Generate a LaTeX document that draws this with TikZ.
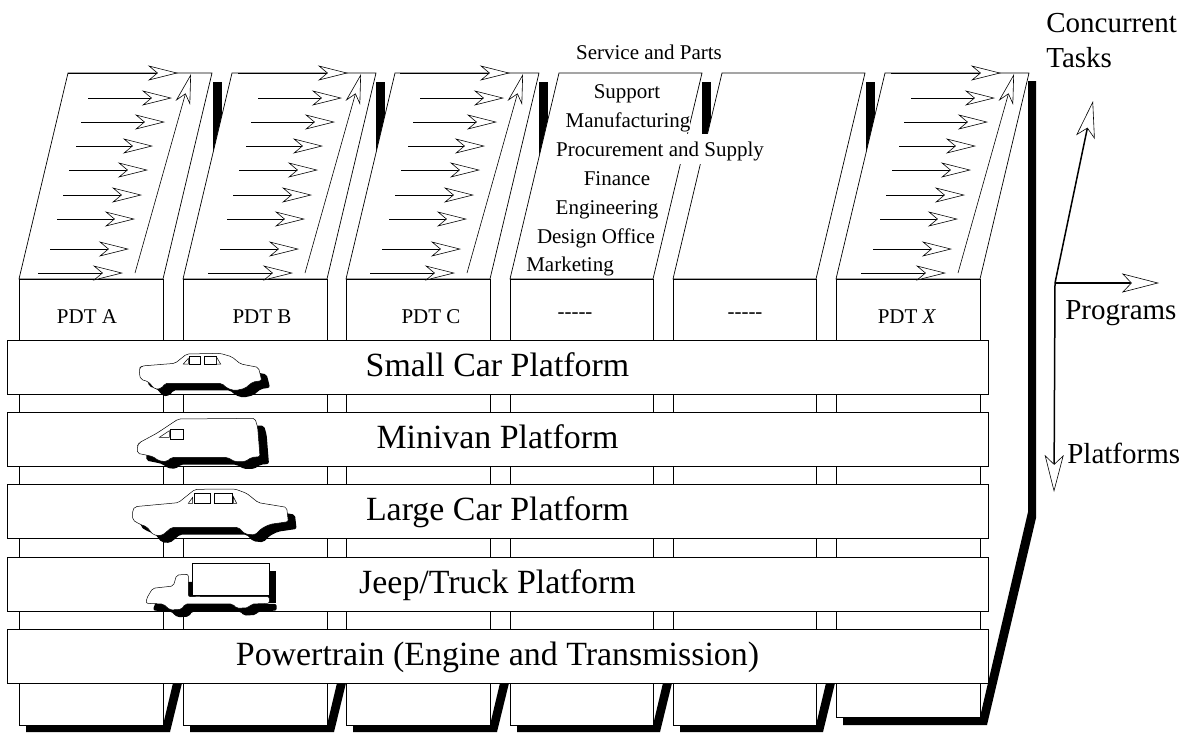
\documentclass[tikz,border=0pt]{standalone}
\usepackage{fontspec}
\setmainfont{Liberation Serif}
\usetikzlibrary{arrows.meta}
\newcommand{\fs}[1]{\fontsize{#1}{#1}\selectfont}
\def\smallcar{(58,85) -- (65,78) -- (165,70) -- (200,42) -- (300,40) -- (335,50) -- (362,72) -- (415,82) -- (420,100) -- (425,122) -- (398,126) -- (375,145) -- (345,152) -- (322,145) -- (305,130) -- (135,130) -- (125,145) -- (105,148) -- (85,125) -- (62,118) -- (58,100) -- cycle}
\def\minivan{(52,318) -- (58,308) -- (110,280) -- (175,237) -- (405,235) -- (413,262) -- (420,350) -- (395,352) -- (375,365) -- (345,365) -- (322,352) -- (155,352) -- (140,365) -- (115,362) -- (100,350) -- (78,345) -- (52,340) -- cycle}
\def\largecar{(38,510) -- (45,500) -- (175,488) -- (225,448) -- (345,447) -- (380,460) -- (415,488) -- (500,502) -- (505,545) -- (450,553) -- (425,565) -- (405,585) -- (375,582) -- (355,562) -- (155,562) -- (140,575) -- (125,587) -- (100,585) -- (80,560) -- (60,553) -- (38,540) -- cycle}
\def\truckcab{(78,790) -- (80,775) -- (98,745) -- (160,738) -- (170,705) -- (205,703) -- (205,770) -- (448,770) -- (448,790) -- (395,792) -- (385,803) -- (350,805) -- (338,792) -- (195,792) -- (185,808) -- (150,810) -- (130,792) -- cycle}
\begin{document}
\begin{tikzpicture}[x=1pt, y=-1pt, line width=0.7pt, >=Stealth,
  open/.style={->, line width=0.6pt, arrows={->[open, fill=white, length=#1, width=15pt, inset=9pt]}}, open/.default=30pt,
  axis/.style={->, line width=1.5pt, arrows={->[open, fill=white, line width=0.6pt, length=37pt, width=19pt, inset=9pt]}},
  platform/.style={draw, fill=white, minimum width=981pt, minimum height=54pt, inner sep=0pt, text height=24pt, text depth=6pt, font=\fs{33.9}},
  pdt/.style={anchor=base, inner sep=0pt, font=\fs{21}},
  task/.style={anchor=base, inner sep=0pt, font=\fs{21}},
  side/.style={anchor=base west, inner sep=0pt, font=\fs{29}},
  body/.style={draw, fill=white, line width=0.5pt, rounded corners=2pt},
  glass/.style={draw, fill=white, line width=0.5pt}]
\useasboundingbox (0,0) rectangle (1186,732);
% black edges behind the columns
\foreach \l/\r in {19/163,183/327,346/490,510/653,673/816}
  \fill ({\l+7},725) -- (\r,725) -- ({\r+10},683) -- ({\r+19},683) -- ({\r+7},732) -- ({\l+7},732) -- cycle;
\foreach \x in {213,376,539,702,866}
  \fill (\x,82) rectangle ({\x+9},160);
\fill (843,717) -- (980,717) -- (1028,512) -- (1028,81) -- (1036,81) -- (1036,518) -- (987,725) -- (843,725) -- cycle;
% columns
\foreach \l/\r/\b in {19/163/725,183/327/725,346/490/725,510/653/725,673/816/725,836/980/717} {
  \draw[fill=white] (\l,279) -- ({\l+49},73) -- ({\r+49},73) -- (\r,279) -- cycle;
  \draw[fill=white] (\l,279) rectangle (\r,\b);
}
% task arrows
\foreach \d in {0,170,332,823} {
  \foreach \a/\b/\y in {68/178/73, 88/172/98, 81/165/122, 76/153/146, 69/148/170, 63/142/195, 57/135/219, 50/129/249, 38/123/273}
    \draw[open] ({\a+\d},\y) -- ({\b+\d},\y);
  \draw[open] ({135+\d},273) -- ({191+\d},74);
}
% labels on the top faces
\node[task] (service) at (649,59) {Service and Parts};
\node[task] (support) at (627,98) {Support};
\node[task, fill=white] (manuf) at (628,127) {Manufacturing};
\node[task, fill=white, text depth=8pt, text height=22pt] (procure) at (660,156) {Procurement and Supply};
\node[task] (finance) at (617,185) {Finance};
\node[task] (engineer) at (607,214) {Engineering};
\node[task] (design) at (596,243) {Design Office};
\node[task] (market) at (570,271) {Marketing};
\node[pdt] (pdta) at (87,323) {PDT A};
\node[pdt] (pdtb) at (262,323) {PDT B};
\node[pdt] (pdtc) at (431,323) {PDT C};
\node[pdt] (pdtd) at (575,318) {-{}-{}-{}-{}-};
\node[pdt] (pdte) at (745,318) {-{}-{}-{}-{}-};
\node[pdt] (pdtx) at (907,323) {PDT \textit{X}};
% platforms
\node[platform] (small) at (497.5,367) {Small Car Platform};
\node[platform] (minivan) at (497.5,439) {Minivan Platform};
\node[platform] (large) at (497.5,511) {Large Car Platform};
\node[platform] (jeep) at (497.5,584) {Jeep/Truck Platform};
\node[platform] (power) at (497.5,656) {Powertrain (Engine and Transmission)};
% vehicles
\begin{scope}[shift={(120,340)}, x=0.3333pt, y=-0.3333pt]
  \fill[xshift=8.3pt, yshift=-7pt, rounded corners=2pt] \smallcar;
  \draw[body] \smallcar;
  \draw[glass] (208,50) rectangle (242,73) (253,50) rectangle (290,73);
  \draw[glass] (190,72) -- (205,55) -- (205,72) -- cycle (290,52) -- (302,72) -- (290,72) -- cycle;
  \fill[xshift=9pt, yshift=-7.3pt, rounded corners=2pt] \minivan;
  \draw[body] \minivan;
  \draw[glass] (150,268) rectangle (190,297);
  \draw[glass] (118,292) -- (148,272) -- (148,292) -- cycle;
  \fill[xshift=8.3pt, yshift=-7.3pt, rounded corners=2pt] \largecar;
  \draw[body] \largecar;
  \draw[glass] (222,460) rectangle (270,490) (282,460) rectangle (338,490);
  \draw[glass] (340,470) -- (350,490) -- (340,490) -- cycle (205,490) -- (218,472) -- (218,490) -- cycle;
  \fill[xshift=7.3pt, yshift=-7.3pt, rounded corners=2pt] \truckcab;
  \fill[xshift=7.3pt, yshift=-7.3pt] (218,670) rectangle (447,767);
  \draw[body] \truckcab;
  \draw[glass] (218,670) rectangle (447,767);
\end{scope}
% axes
\coordinate (origin) at (1055,283);
\coordinate (tasktip) at (1093,101);
\coordinate (progtip) at (1159,283);
\coordinate (plattip) at (1054,492);
\draw[axis] (origin) -- (tasktip);
\draw[axis] (origin) -- (progtip);
\draw[axis] (origin) -- (plattip);
\node[side] (conc) at (1046,32) {Concurrent};
\node[side] (tasks) at (1046,67) {Tasks};
\node[side] (prog) at (1065,319) {Programs};
\node[side] (plat) at (1067,463) {Platforms};
\end{tikzpicture}
\end{document}
